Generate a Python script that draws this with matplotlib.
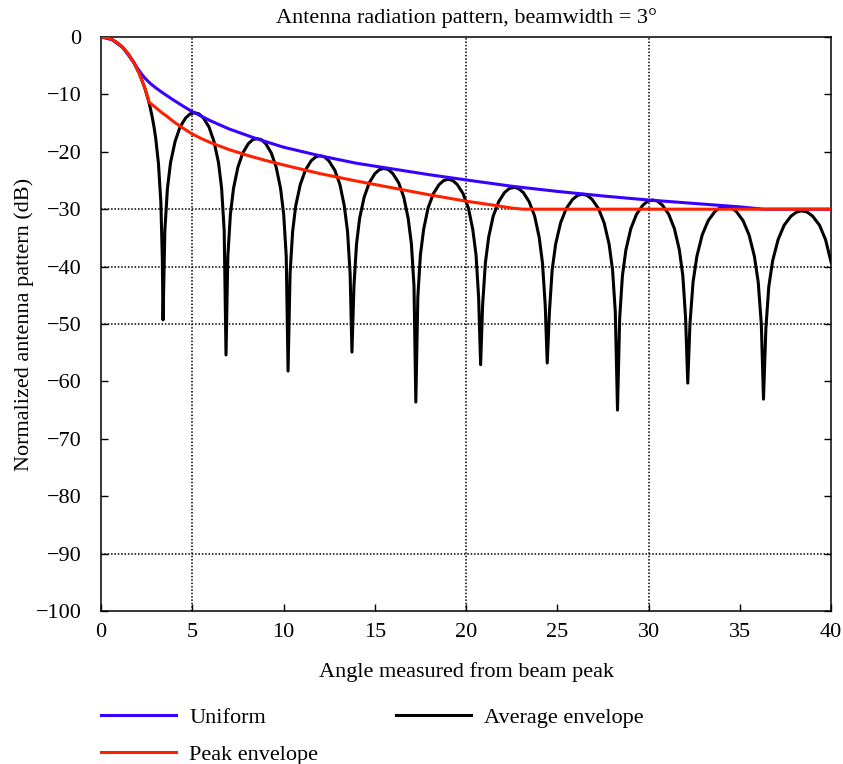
import matplotlib
matplotlib.use("Agg")
import matplotlib.pyplot as plt

plt.rcParams['font.family'] = ['Liberation Serif', 'DejaVu Serif']

# --------------------------
# Data (angle in degrees, level in dB)
# --------------------------
# Uniform pattern, envelope of the sidelobe peaks
uniform_angle = [0, 0.6, 1.2, 1.8, 2.0, 2.2, 2.4, 2.7, 3.0, 3.3, 3.6, 4.0, 4.5, 5.0, 6.0, 7.0,
                 8.5, 10, 12, 14, 16, 18, 20, 22.5, 25, 27.5, 30, 32.5, 35, 36.3, 40]
uniform_db = [0, -0.45, -1.86, -4.46, -5.45, -6.35, -7.15, -8.1, -8.85, -9.55, -10.2, -11.05,
              -12.05, -13.0, -14.6, -16.0, -17.7, -19.2, -20.7, -22.0, -23.0, -24.0, -24.9,
              -26.0, -26.9, -27.7, -28.4, -29.0, -29.6, -30.0, -30.0]

# Peak envelope
peak_angle = [0, 0.3, 0.6, 0.9, 1.2, 1.5, 1.8, 2.1, 2.4, 2.65, 3.0, 3.3, 3.6, 4.0, 4.5, 5.0,
              5.5, 6.0, 7.0, 8.0, 9.0, 10.4, 12, 14, 16, 18, 20, 21.5, 22.5, 23.1, 40]
peak_db = [0, -0.11, -0.45, -1.02, -1.86, -2.98, -4.46, -6.36, -8.88, -11.4, -12.3, -13.1,
           -13.8, -14.8, -15.9, -16.9, -17.7, -18.4, -19.6, -20.6, -21.5, -22.6, -23.8,
           -25.1, -26.3, -27.5, -28.6, -29.3, -29.8, -30.0, -30.0]

# Average envelope (the full pattern with its nulls)
avg_angle = [
    0, 0.3, 0.6, 0.9, 1.2, 1.5, 1.8, 2.1, 2.4, 2.6, 2.7, 2.8, 2.9, 3.0, 3.15, 3.28, 3.36, 3.40,
    3.50, 3.64, 3.81, 4.06, 4.33, 4.64, 4.88, 5.13, 5.37, 5.61, 5.92, 6.19, 6.44, 6.61, 6.75, 6.85,
    6.95, 7.09, 7.26, 7.50, 7.77, 8.07, 8.31, 8.55, 8.79, 9.03, 9.33, 9.60, 9.84, 10.01, 10.15, 10.25,
    10.36, 10.50, 10.67, 10.92, 11.20, 11.51, 11.76, 12.00, 12.25, 12.49, 12.81, 13.09, 13.33, 13.51, 13.65, 13.75,
    13.86, 14.00, 14.17, 14.42, 14.70, 15.01, 15.26, 15.50, 15.75, 15.99, 16.31, 16.59, 16.83, 17.01, 17.15, 17.25,
    17.36, 17.50, 17.68, 17.92, 18.21, 18.53, 18.78, 19.03, 19.27, 19.52, 19.84, 20.13, 20.37, 20.55, 20.69, 20.80,
    20.91, 21.06, 21.24, 21.49, 21.79, 22.11, 22.37, 22.63, 22.88, 23.14, 23.46, 23.76, 24.01, 24.19, 24.34, 24.45,
    24.57, 24.72, 24.91, 25.18, 25.49, 25.84, 26.11, 26.38, 26.64, 26.91, 27.26, 27.57, 27.84, 28.03, 28.18, 28.30,
    28.42, 28.57, 28.76, 29.03, 29.34, 29.69, 29.96, 30.23, 30.49, 30.76, 31.11, 31.42, 31.69, 31.88, 32.03, 32.15,
    32.27, 32.44, 32.65, 32.94, 33.27, 33.64, 33.93, 34.23, 34.52, 34.81, 35.18, 35.51, 35.80, 36.01, 36.18, 36.30,
    36.43, 36.59, 36.80, 37.10, 37.43, 37.81, 38.11, 38.40, 38.69, 38.99, 39.37, 39.70, 40.00]
avg_db = [
    0, -0.11, -0.45, -1.02, -1.86, -2.98, -4.46, -6.36, -8.88, -11.06, -12.35, -13.83, -15.58, -17.7, -22.1, -28.8, -38.5, -49.3,
    -33.7, -26.4, -21.9, -18.2, -15.7, -14.1, -13.4, -13.2, -13.4, -14.1, -15.7, -18.2, -21.9, -26.4, -33.7, -55.4,
    -38.2, -30.9, -26.4, -22.7, -20.2, -18.6, -17.9, -17.7, -17.9, -18.6, -20.2, -22.7, -26.4, -30.9, -38.2, -58.2,
    -41.2, -33.9, -29.4, -25.7, -23.2, -21.6, -20.9, -20.7, -20.9, -21.6, -23.2, -25.7, -29.4, -33.9, -41.2, -54.9,
    -43.4, -36.1, -31.6, -27.9, -25.4, -23.8, -23.1, -22.9, -23.1, -23.8, -25.4, -27.9, -31.6, -36.1, -43.4, -63.6,
    -45.3, -38.0, -33.5, -29.8, -27.3, -25.7, -25.0, -24.8, -25.0, -25.7, -27.3, -29.8, -33.5, -38.0, -45.3, -57.1,
    -46.7, -39.4, -34.9, -31.2, -28.7, -27.1, -26.4, -26.2, -26.4, -27.1, -28.7, -31.2, -34.9, -39.4, -46.7, -56.8,
    -47.9, -40.6, -36.1, -32.4, -29.9, -28.3, -27.6, -27.4, -27.6, -28.3, -29.9, -32.4, -36.1, -40.6, -47.9, -65.0,
    -48.9, -41.6, -37.1, -33.4, -30.9, -29.3, -28.6, -28.4, -28.6, -29.3, -30.9, -33.4, -37.1, -41.6, -48.9, -60.3,
    -50.0, -42.7, -38.2, -34.5, -32.0, -30.4, -29.7, -29.5, -29.7, -30.4, -32.0, -34.5, -38.2, -42.7, -50.0, -63.1,
    -50.8, -43.5, -39.0, -35.3, -32.8, -31.2, -30.5, -30.3, -30.5, -31.2, -32.8, -35.3, -39.2]

# grid lines that show in the reference
grid_x = [5, 20, 30]
grid_y = [-30, -40, -50, -90]

# --------------------------
# Plot
# --------------------------
fig = plt.figure(figsize=(8.43, 7.64), dpi=100)
ax = fig.add_axes([0.1198, 0.2003, 0.866, 0.7513])

for gx in grid_x:
    ax.axvline(gx, color='black', lw=1.1, linestyle=(0, (1, 1.2)), zorder=1)
for gy in grid_y:
    ax.axhline(gy, color='black', lw=1.1, linestyle=(0, (1, 1.2)), zorder=1)

ax.plot(avg_angle, avg_db, color='black', lw=2.2, label='Average envelope', zorder=3)
ax.plot(uniform_angle, uniform_db, color='#3a00ff', lw=2.2, label='Uniform', zorder=4)
ax.plot(peak_angle, peak_db, color='#ff2000', lw=2.2, label='Peak envelope', zorder=5)

ax.set_xlim(0, 40)
ax.set_ylim(-100, 0)
ax.set_xticks(range(0, 41, 5))
ax.set_yticks(range(-100, 1, 10))
ax.tick_params(direction='in', length=5, width=1, labelsize=16, right=True, top=False)
ax.tick_params(axis='x', pad=9)
ax.tick_params(axis='y', pad=14)
for s in ax.spines.values():
    s.set_linewidth(1.1)

ax.set_title('Antenna radiation pattern, beamwidth = 3°', fontsize=16, pad=10)
ax.set_xlabel('Angle measured from beam peak', fontsize=16, labelpad=14)
ax.set_ylabel('Normalized antenna pattern (dB)', fontsize=16, labelpad=1)

h, l = ax.get_legend_handles_labels()
order = [1, 2, 0]
fig.legend([h[i] for i in order], [l[i] for i in order], loc='upper left',
           bbox_to_anchor=(0.096, 0.100), ncol=2, frameon=False, fontsize=16,
           handlelength=3.38, handletextpad=0.59, columnspacing=3.5, labelspacing=0.74)

plt.savefig('out.png', dpi=100)
